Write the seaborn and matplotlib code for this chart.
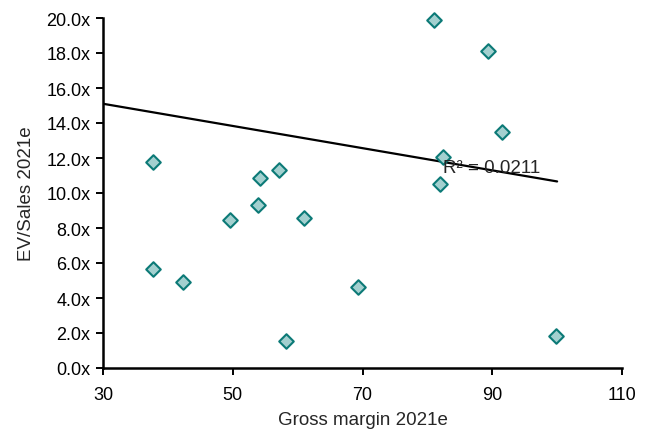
import matplotlib
matplotlib.use("Agg")
import matplotlib.pyplot as plt
import seaborn as sns
import pandas as pd
from matplotlib.ticker import FuncFormatter

gross_margin = [37.7, 37.7, 42.3, 49.6, 53.9, 54.2, 57.1, 58.2, 61.0, 69.3,
                81.0, 81.9, 82.4, 89.3, 91.5, 99.8]
ev_sales = [11.8, 5.64, 4.9, 8.43, 9.29, 10.83, 11.34, 1.54, 8.55, 4.62,
            19.89, 10.54, 12.08, 18.12, 13.5, 1.82]
trend_x = [30, 100]
trend_y = [15.1, 10.66]
r2_label = "R² = 0.0211"
x_ticks = [30, 50, 70, 90, 110]
y_ticks = [0, 2, 4, 6, 8, 10, 12, 14, 16, 18, 20]

sns.set_style("white")
plt.rcParams['font.family'] = ['Liberation Sans', 'DejaVu Sans']

df = pd.DataFrame({"x": gross_margin, "y": ev_sales})
fig = plt.figure(figsize=(6.53, 4.31), dpi=100)
ax = fig.add_axes([103/653, 1 - 369/431, (622-103)/653, (369-19)/431])

sns.lineplot(x=trend_x, y=trend_y, ax=ax, color="black", linewidth=1.6, zorder=2)
sns.scatterplot(data=df, x="x", y="y", ax=ax, marker="D", s=55,
                color="#a3d0cf", edgecolor="#0c7a77", linewidth=1.5, zorder=3,
                clip_on=False)

ax.text(82.4, 11.45, r2_label, fontsize=13.5, va="center", ha="left", zorder=4)

ax.set_xlim(30, 110)
ax.set_ylim(0, 20)
ax.set_xticks(x_ticks)
ax.set_yticks(y_ticks)
ax.yaxis.set_major_formatter(FuncFormatter(lambda v, p: f"{v:.1f}x"))
ax.tick_params(axis="both", direction="out", length=5, width=1.4, labelsize=13,
               colors="black", bottom=True, left=True, pad=4)
ax.tick_params(axis="x", pad=8)
for s in ["top", "right"]:
    ax.spines[s].set_visible(False)
for s in ["left", "bottom"]:
    ax.spines[s].set_color("black")
    ax.spines[s].set_linewidth(1.8)
ax.set_xlabel("Gross margin 2021e", fontsize=13.5, labelpad=6)
ax.set_ylabel("EV/Sales 2021e", fontsize=13.5, labelpad=8)

fig.savefig("out.png", dpi=100)
